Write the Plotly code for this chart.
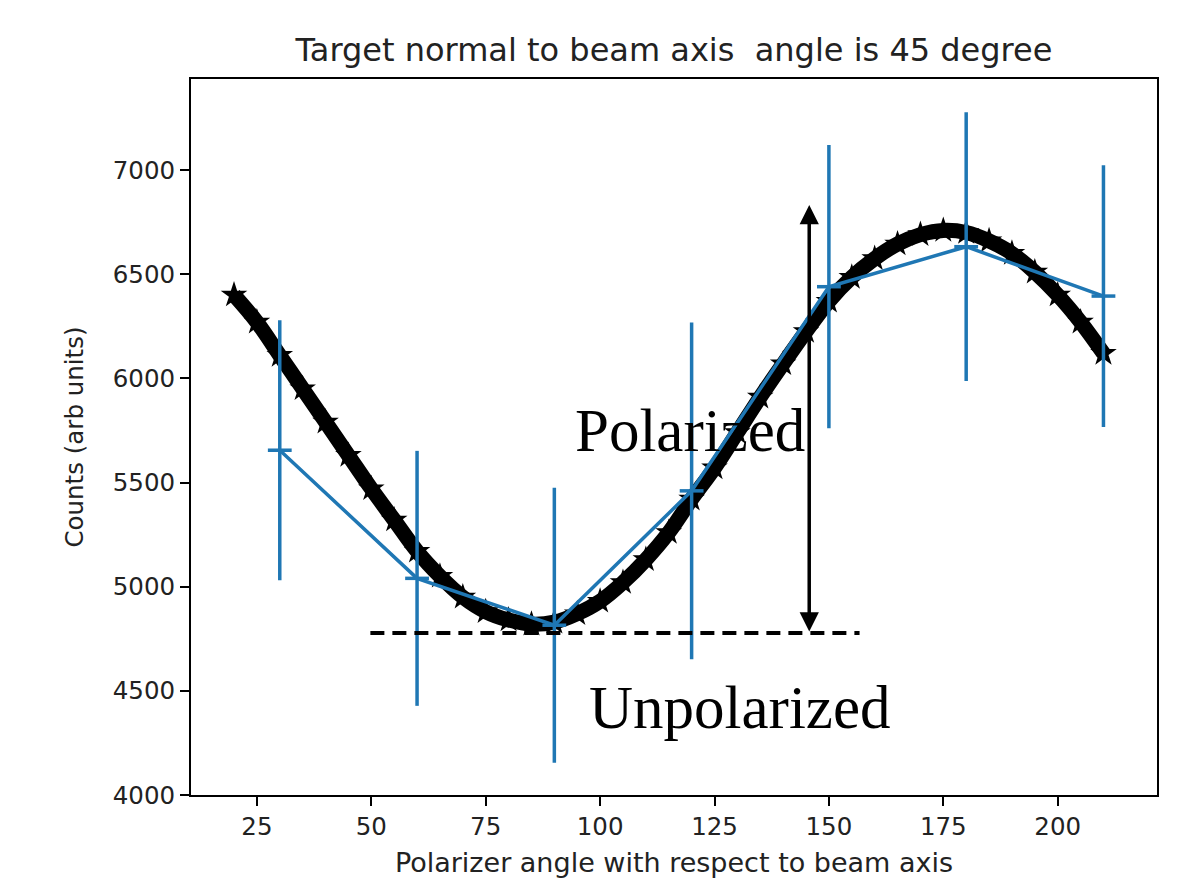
import plotly.graph_objects as go

# Fitted curve (black), every 5 degrees
fit_angle = [20, 25, 30, 35, 40, 45, 50, 55, 60, 65, 70, 75, 80, 85, 90, 95, 100,
             105, 110, 115, 120, 125, 130, 135, 140, 145, 150, 155, 160, 165, 170,
             175, 180, 185, 190, 195, 200, 205, 210]
fit_counts = [6400, 6270, 6110, 5950, 5790, 5630, 5470, 5320, 5170, 5050, 4950,
              4880, 4840, 4820, 4830, 4870, 4930, 5020, 5130, 5260, 5420, 5570,
              5740, 5910, 6070, 6225, 6370, 6485, 6575, 6645, 6690, 6710, 6700,
              6660, 6600, 6510, 6400, 6270, 6120]

# Measured points (blue) with error bars
meas_angle = [30, 60, 90, 120, 150, 180, 210]
meas_counts = [5655, 5040, 4815, 5460, 6440, 6632, 6395]
meas_err = [624, 612, 660, 808, 680, 645, 628]

x_ticks = [25, 50, 75, 100, 125, 150, 175, 200]
y_ticks = [4000, 4500, 5000, 5500, 6000, 6500, 7000]

BLUE = "#1f77b4"
FONT = "DejaVu Sans"
SERIF = "Liberation Serif"

fig = go.Figure()

fig.add_trace(go.Scatter(
    x=fit_angle, y=fit_counts, mode="lines+markers",
    line=dict(color="black", width=15, shape="spline"),
    marker=dict(symbol="star", size=20, color="black"),
    showlegend=False, hoverinfo="skip",
))

fig.add_trace(go.Scatter(
    x=meas_angle, y=meas_counts, mode="lines+markers",
    line=dict(color=BLUE, width=3.5),
    marker=dict(symbol="line-ew", size=17, line=dict(color=BLUE, width=3.5)),
    error_y=dict(type="data", array=meas_err, visible=True, color=BLUE,
                 thickness=3.5, width=0),
    showlegend=False,
))

# Unpolarized baseline (dashed)
fig.add_shape(type="line", xref="x", yref="y", x0=49.8, x1=156.7, y0=4778, y1=4778,
              line=dict(color="black", width=4, dash="14px,8px"), layer="above")

# Double-headed arrow
fig.add_annotation(x=145.7, y=6832, ax=145.7, ay=4778, xref="x", yref="y",
                   axref="x", ayref="y", text="", showarrow=True,
                   arrowhead=2, arrowside="end+start", arrowsize=1.1,
                   arrowwidth=3.5, arrowcolor="black")

fig.add_annotation(x=119.6, y=5752, xref="x", yref="y", text="Polarized",
                   showarrow=False, font=dict(family=SERIF, size=61, color="black"),
                   xanchor="center", yanchor="middle")
fig.add_annotation(x=130.5, y=4418, xref="x", yref="y", text="Unpolarized",
                   showarrow=False, font=dict(family=SERIF, size=61, color="black"),
                   xanchor="center", yanchor="middle")

fig.update_layout(
    width=1203, height=882,
    margin=dict(l=183, r=54, t=71, b=95),
    paper_bgcolor="white", plot_bgcolor="white",
    font=dict(family=FONT, color="#222222"),
    title=dict(text="Target normal to beam axis  angle is 45 degree",
               x=(674 - 8) / 1203, xanchor="center", y=1 - 42 / 882, yanchor="middle",
               font=dict(family=FONT, size=32, color="#222222")),
    xaxis=dict(range=[10.6, 221.7], tickvals=x_ticks, ticks="outside", ticklen=9,
               tickwidth=2, tickcolor="black", showline=True, linecolor="black",
               linewidth=2, mirror=True, showgrid=False, zeroline=False,
               tickfont=dict(family=FONT, size=24.5, color="#222222"),
               title=dict(text="Polarizer angle with respect to beam axis",
                          font=dict(family=FONT, size=27, color="#222222"),
                          standoff=13)),
    yaxis=dict(range=[4000, 7437], tickvals=y_ticks, ticks="outside", ticklen=9,
               tickwidth=2, tickcolor="black", showline=True, linecolor="black",
               linewidth=2, mirror=True, showgrid=False, zeroline=False,
               tickfont=dict(family=FONT, size=24.5, color="#222222"),
               title=dict(text="Counts (arb units)",
                          font=dict(family=FONT, size=24.5, color="#222222"),
                          standoff=22)),
)

fig.write_html("out.html")
